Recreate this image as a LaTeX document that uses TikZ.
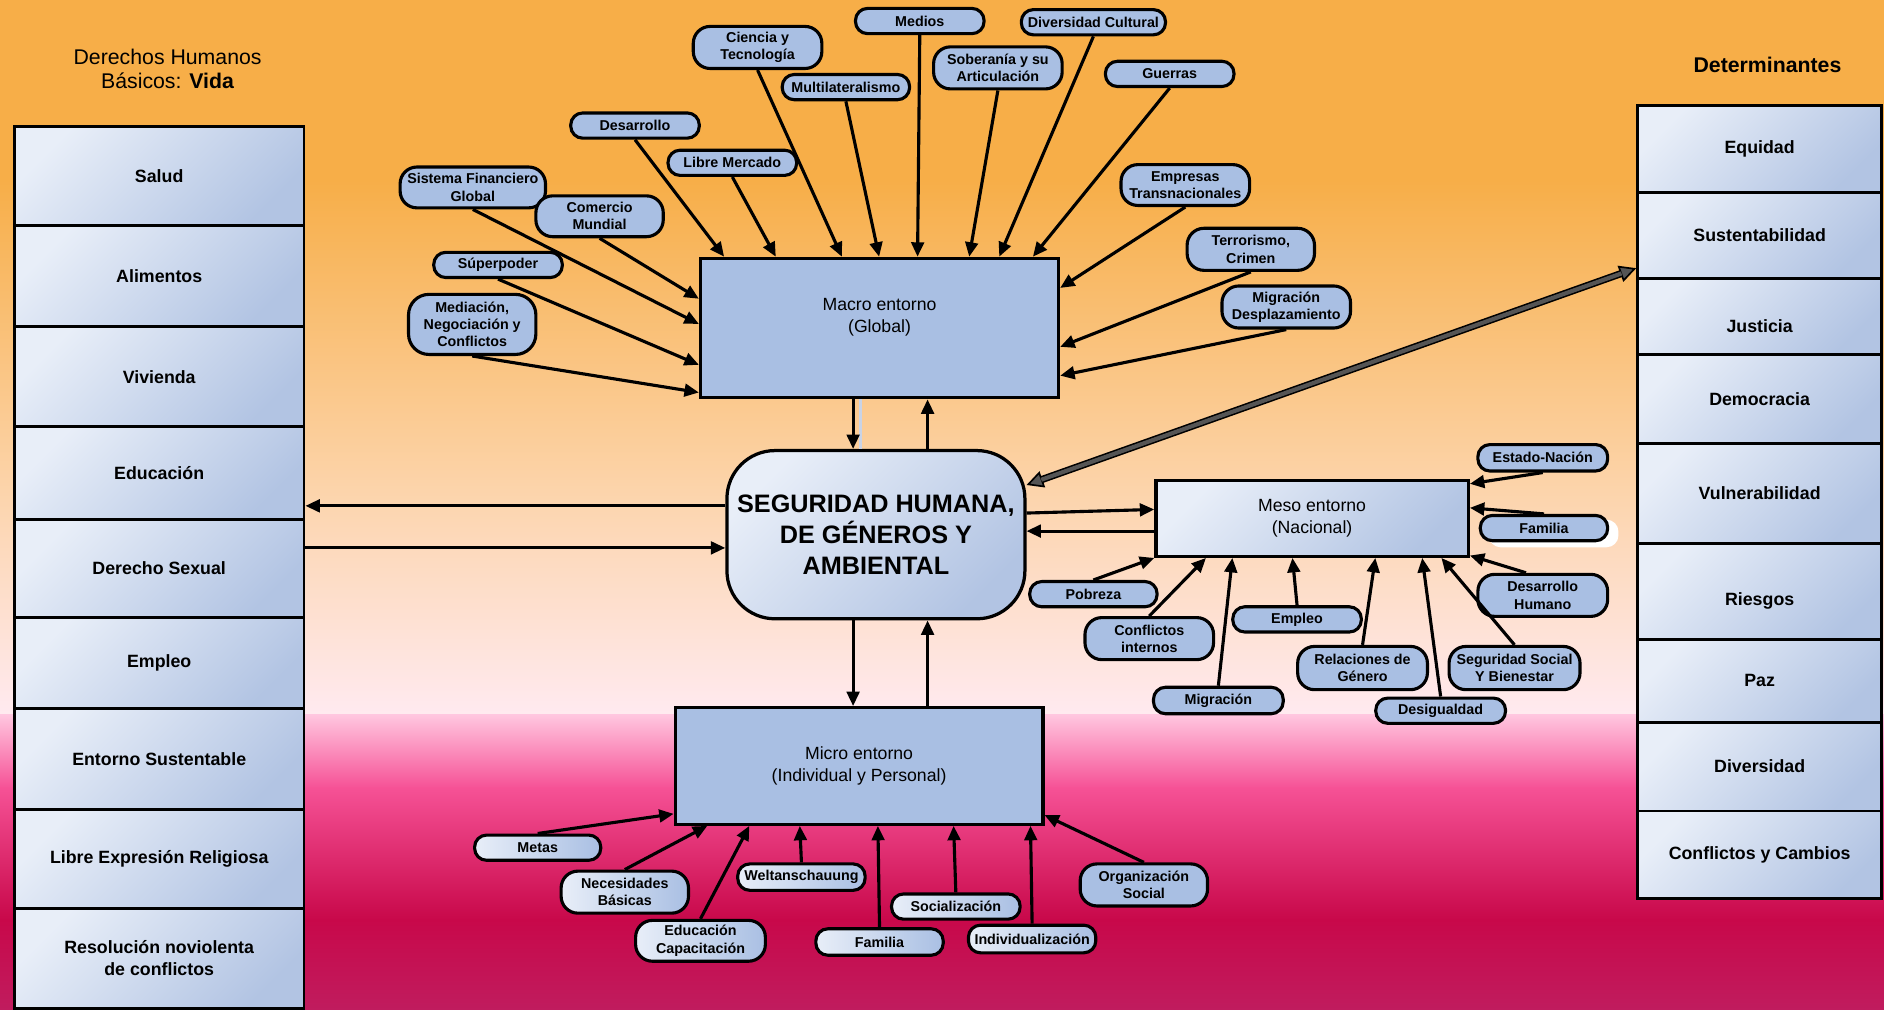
\documentclass[tikz,border=0pt]{standalone}
\usepackage{fontspec}
\setmainfont{Liberation Sans}
\usetikzlibrary{arrows.meta}
\definecolor{ovalblue}{HTML}{A9BFE3}
\definecolor{boxlt}{HTML}{E8EEF8}
\definecolor{boxdk}{HTML}{B2C4E3}
\definecolor{bgA}{HTML}{F7AE48}
\definecolor{bgB}{HTML}{FCD3A8}
\definecolor{bgC}{HTML}{FFEAF0}
\definecolor{bgD}{HTML}{FFC6DF}
\definecolor{bgE}{HTML}{F65296}
\definecolor{bgF}{HTML}{C8084A}
\definecolor{bgG}{HTML}{C01C5E}
\definecolor{dblgray}{HTML}{555555}
\definecolor{ghost}{HTML}{C9D3E6}
\newcommand\ovf{\fontsize{11.9pt}{14.3pt}\selectfont\bfseries}
\newcommand\colf{\fontsize{14.8pt}{18pt}\selectfont\bfseries}
\newcommand\boxf{\fontsize{14.7pt}{18.3pt}\selectfont}
\newcommand\secf{\fontsize{21pt}{25.8pt}\selectfont\bfseries}
\newcommand\titf{\fontsize{17.7pt}{20.8pt}\selectfont}
\begin{document}
\begin{tikzpicture}[x=1pt,y=-1pt,
 cell/.style={draw=black, line width=2.4pt, top color=boxlt, bottom color=boxdk, shading angle=45, inner sep=0pt, font=\colf, align=center},
 lcell/.style={cell, minimum width=241pt},
 rcell/.style={cell, minimum width=203pt},
 pill/.style={draw=black, line width=2.6pt, fill=ovalblue, rounded corners=10pt, inner sep=0pt, font=\ovf, align=center},
 pillg/.style={pill, left color=boxlt, right color=ovalblue},
 two/.style={rounded corners=14pt},
 arr/.style={line width=2.6pt, -{Triangle[length=12pt,width=10.5pt]}},
]
\useasboundingbox (0,0) rectangle (1568,840);
% background
\fill[bgA] (0,0) rectangle (1568,150.5);
\shade[top color=bgA, bottom color=bgB] (0,150) rectangle (1568,400.5);
\shade[top color=bgB, bottom color=bgC] (0,400) rectangle (1568,595.5);
\shade[top color=bgD, bottom color=bgE] (0,595) rectangle (1568,655.5);
\shade[top color=bgE, bottom color=bgF] (0,655) rectangle (1568,765.5);
\shade[top color=bgF, bottom color=bgG] (0,765) rectangle (1568,840);

% titles
\node[font=\titf, anchor=base] (tit1) at (139.5,53.3) {Derechos Humanos};
\node[font=\titf, anchor=base] (tit2) at (139.5,74) {Básicos: \textbf{Vida}};
\node[font=\titf\bfseries, anchor=base] (tit3) at (1471,60) {Determinantes};

% left column
\node[lcell, minimum height=83pt] (l1) at (132.5,146.5) {Salud};
\node[lcell, minimum height=84pt] (l2) at (132.5,230) {Alimentos};
\node[lcell, minimum height=83pt] (l3) at (132.5,313.5) {Vivienda};
\node[lcell, minimum height=77pt] (l4) at (132.5,393.5) {Educación};
\node[lcell, minimum height=82pt] (l5) at (132.5,473) {Derecho Sexual};
\node[lcell, minimum height=76pt] (l6) at (132.5,552) {Empleo};
\node[lcell, minimum height=84pt] (l7) at (132.5,632) {Entorno Sustentable};
\node[lcell, minimum height=82pt] (l8) at (132.5,715) {Libre Expresión Religiosa};
\node[lcell, minimum height=83pt] (l9) at (132.5,797.5) {Resolución noviolenta\\de conflictos};

% right column
\node[rcell, minimum height=72pt] (r1) at (1464.5,124) {Equidad};
\node[rcell, minimum height=72pt] (r2) at (1464.5,196) {Sustentabilidad};
\node[rcell, minimum height=63pt, text height=27pt] (r3) at (1464.5,263.5) {Justicia};
\node[rcell, minimum height=74pt] (r4) at (1464.5,332) {Democracia};
\node[rcell, minimum height=83pt] (r5) at (1464.5,410.5) {Vulnerabilidad};
\node[rcell, minimum height=80pt, text height=27pt] (r6) at (1464.5,492) {Riesgos};
\node[rcell, minimum height=69pt] (r7) at (1464.5,566.5) {Paz};
\node[rcell, minimum height=74pt] (r8) at (1464.5,638) {Diversidad};
\node[rcell, minimum height=73pt] (r9) at (1464.5,711.5) {Conflictos y Cambios};

% main boxes
\node[draw=black, line width=2.7pt, fill=ovalblue, minimum width=298pt, minimum height=116pt, inner sep=0pt] (macro) at (732,273) {};
\node[font=\boxf, align=center] (macrot) at (732,264) {Macro entorno\\(Global)};
\node[draw=black, line width=2.7pt, top color=boxlt, bottom color=boxdk, shading angle=45, minimum width=260pt, minimum height=63pt, inner sep=0pt, font=\boxf, align=center] (meso) at (1092,431.5) {Meso entorno\\(Nacional)};
\node[draw=black, line width=2.7pt, fill=ovalblue, minimum width=306pt, minimum height=97pt, inner sep=0pt, font=\boxf, align=center] (micro) at (715,637.5) {Micro entorno\\(Individual y Personal)};
\node[draw=black, line width=2.7pt, top color=boxlt, bottom color=boxdk, shading angle=45, rounded corners=40pt, minimum width=248pt, minimum height=140pt, inner sep=0pt, font=\secf, align=center] (sec) at (729,445) {SEGURIDAD HUMANA,\\DE GÉNEROS Y\\AMBIENTAL};

% macro ovals
\node[pill, minimum width=107pt, minimum height=21pt] (medios) at (765.5,17.5) {Medios};
\node[pill, minimum width=120pt, minimum height=21pt] (divcul) at (910,18.5) {Diversidad Cultural};
\node[pill, two, minimum width=107pt, minimum height=35pt] (ciencia) at (630.5,39.5) {Ciencia y\\Tecnología};
\node[pill, two, minimum width=107pt, minimum height=35pt] (sober) at (830.5,56.5) {Soberanía y su\\Articulación};
\node[pill, minimum width=106pt, minimum height=21pt] (multi) at (704,72.5) {Multilateralismo};
\node[pill, minimum width=107pt, minimum height=21pt] (guerras) at (973.5,61.5) {Guerras};
\node[pill, minimum width=107pt, minimum height=21pt] (desarr) at (528.5,104.5) {Desarrollo};
\node[pill, minimum width=107pt, minimum height=21pt] (libre) at (609.5,135.5) {Libre Mercado};
\node[pill, two, minimum width=121pt, minimum height=34pt] (sistema) at (393.5,156) {Sistema Financiero\\Global};
\node[pill, two, minimum width=106pt, minimum height=34pt] (comercio) at (499,180) {Comercio\\Mundial};
\node[pill, minimum width=107pt, minimum height=21pt] (superp) at (414.5,220.5) {Súperpoder};
\node[pill, rounded corners=17pt, minimum width=106pt, minimum height=50pt] (mediac) at (393,270) {Mediación,\\Negociación y\\Conflictos};
\node[pill, two, minimum width=107pt, minimum height=34pt] (empresas) at (986.5,154) {Empresas\\Transnacionales};
\node[pill, two, minimum width=106pt, minimum height=35pt] (terror) at (1041,207.5) {Terrorismo,\\Crimen};
\node[pill, two, minimum width=107pt, minimum height=35pt] (migdesp) at (1070.5,255.5) {Migración\\Desplazamiento};

% meso ovals
\node[pill, minimum width=108pt, minimum height=22pt] (estado) at (1284,381) {Estado-Nación};
\node[fill=white, rounded corners=10pt, minimum width=108pt, minimum height=23pt, inner sep=0pt] (famsh) at (1293,444) {};
\node[pill, minimum width=106pt, minimum height=21pt] (fammeso) at (1285,439.5) {Familia};
\node[pill, two, minimum width=108pt, minimum height=35pt] (deshum) at (1284,495.5) {Desarrollo\\Humano};
\node[pill, minimum width=106pt, minimum height=21pt] (pobreza) at (910,494.5) {Pobreza};
\node[pill, two, minimum width=107pt, minimum height=35pt] (conint) at (956.5,531.5) {Conflictos\\internos};
\node[pill, minimum width=107pt, minimum height=21pt] (empmeso) at (1079.5,515.5) {Empleo};
\node[pill, minimum width=108pt, minimum height=22pt] (migmeso) at (1014,583) {Migración};
\node[pill, two, minimum width=108pt, minimum height=36pt] (relgen) at (1134,556) {Relaciones de\\Género};
\node[pill, minimum width=108pt, minimum height=21pt] (desig) at (1199,591.5) {Desigualdad};
\node[pill, two, minimum width=109pt, minimum height=36pt] (segsoc) at (1260.5,556) {Seguridad Social\\Y Bienestar};

% micro ovals
\node[pillg, minimum width=105pt, minimum height=21pt] (metas) at (447.5,705.5) {Metas};
\node[pillg, two, minimum width=106pt, minimum height=35pt] (necbas) at (520,742.5) {Necesidades\\Básicas};
\node[pillg, two, minimum width=108pt, minimum height=34pt] (educ) at (583,783) {Educación\\Capacitación};
\node[pillg, minimum width=106pt, minimum height=22pt] (welt) at (667,730) {Weltanschauung};
\node[pillg, minimum width=106pt, minimum height=22pt] (fammicro) at (732,784) {Familia};
\node[pillg, minimum width=107pt, minimum height=21pt] (social) at (795.5,754.5) {Socialización};
\node[pillg, minimum width=106pt, minimum height=23pt] (indiv) at (859,781.5) {Individualización};
\node[pill, two, minimum width=106pt, minimum height=35pt] (orgsoc) at (952,736.5) {Organización\\Social};

% arrows into macro
\draw[arr] (desarr.south) -- ([xshift=21pt]macro.north west);
\draw[arr] (libre.south) -- ([xshift=64pt]macro.north west);
\draw[arr] (ciencia.south) -- ([xshift=119pt]macro.north west);
\draw[arr] (multi.south) -- ([xshift=150pt]macro.north west);
\draw[arr] (medios.south) -- ([xshift=182pt]macro.north west);
\draw[arr] (sober.south) -- ([xshift=225pt]macro.north west);
\draw[arr] (divcul.south) -- ([xshift=250pt]macro.north west);
\draw[arr] (guerras.south) -- ([xshift=278pt]macro.north west);
\draw[arr] (empresas.south) -- ([yshift=-26pt]macro.north east);
\draw[arr] (terror.south) -- ([yshift=-75pt]macro.north east);
\draw[arr] (migdesp.south) -- ([yshift=-99pt]macro.north east);
\draw[arr] (comercio.south) -- ([yshift=-35pt]macro.north west);
\draw[arr] (sistema.south) -- ([yshift=-56pt]macro.north west);
\draw[arr] (superp.south) -- ([yshift=-90pt]macro.north west);
\draw[arr] (mediac.south) -- ([yshift=-113pt]macro.north west);

% arrows into meso
\draw[arr] (estado.south) -- ([yshift=-4pt]meso.north east);
\draw[arr] (fammeso.north) -- ([yshift=-24pt]meso.north east);
\draw[arr] ([xshift=-14pt]deshum.north) -- ([yshift=2pt]meso.south east);
\draw[arr] (pobreza.north) -- (meso.south west);
\draw[arr] (conint.north) -- ([xshift=43pt]meso.south west);
\draw[arr] (migmeso.north) -- ([xshift=65pt]meso.south west);
\draw[arr] (empmeso.north) -- ([xshift=115pt]meso.south west);
\draw[arr] (relgen.north) -- ([xshift=184pt]meso.south west);
\draw[arr] (desig.north) -- ([xshift=223pt]meso.south west);
\draw[arr] (segsoc.north) -- ([xshift=239pt]meso.south west);

% arrows into micro
\draw[arr] (metas.north) -- ([yshift=10pt]micro.south west);
\draw[arr] (necbas.north) -- ([xshift=28pt]micro.south west);
\draw[arr] (educ.north) -- ([xshift=63pt]micro.south west);
\draw[arr] (welt.north) -- ([xshift=105pt]micro.south west);
\draw[arr] (fammicro.north) -- ([xshift=170pt]micro.south west);
\draw[arr] (social.north) -- ([xshift=233pt]micro.south west);
\draw[arr] (indiv.north) -- ([xshift=297pt]micro.south west);
\draw[arr] (orgsoc.north) -- ([yshift=9pt]micro.south east);

% links with the central node
\draw[line width=2pt, ghost] ([xshift=-16pt]macro.south) -- ([xshift=-13pt]sec.north);
\draw[arr] ([xshift=-22pt]macro.south) -- ([xshift=-19pt]sec.north);
\draw[arr] ([xshift=43pt]sec.north) -- ([xshift=40pt]macro.south);
\draw[arr] ([yshift=24pt]sec.west) -- ([yshift=-27.5pt]l4.east);
\draw[arr] ([yshift=17pt]l5.east) -- ([yshift=-11pt]sec.west);
\draw[arr] ([yshift=18pt]sec.east) -- ([yshift=7.5pt]meso.west);
\draw[arr] ([yshift=-10.5pt]meso.west) -- ([yshift=3pt]sec.east);
\draw[arr] ([xshift=-19pt]sec.south) -- ([xshift=-5pt]micro.north);
\draw[arr] ([xshift=57pt]micro.north) -- ([xshift=43pt]sec.south);

% double arrow to determinants
\draw[line width=6pt, {Triangle[length=14pt,width=14pt,fill=dblgray,line width=1.4pt]}-{Triangle[length=14pt,width=14pt,fill=dblgray,line width=1.4pt]}] ([yshift=-30pt]sec.north east) -- ([yshift=10pt]r2.south west);
\draw[line width=3.4pt, dblgray, shorten <=13pt, shorten >=13pt] ([yshift=-30pt]sec.north east) -- ([yshift=10pt]r2.south west);
\end{tikzpicture}
\end{document}
